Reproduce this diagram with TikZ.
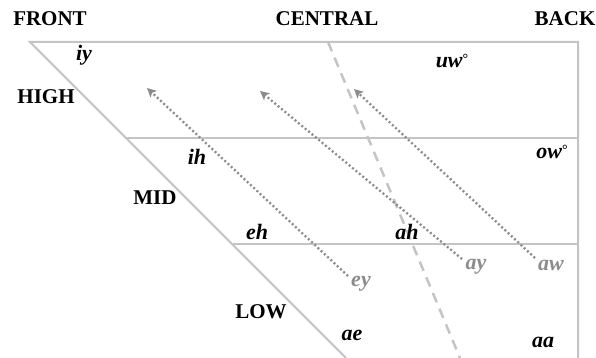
\documentclass[tikz,border=0pt]{standalone}
\usepackage{fontspec}
\setmainfont{Liberation Serif}
\usetikzlibrary{arrows.meta}
\definecolor{gridgray}{HTML}{C4C4C4}
\definecolor{glidegray}{HTML}{8C8C8C}
\newcommand{\smalldeg}{\raisebox{0.22em}{\fontsize{14}{14}\selectfont\upshape°}}
\tikzset{
  frame/.style={draw=gridgray, line width=2pt},
  centreline/.style={draw=gridgray, line width=2.5pt, dash pattern=on 10pt off 7pt},
  glide/.style={draw=glidegray, line width=2.3pt, dash pattern=on 2pt off 2.4pt,
    -{Stealth[length=9pt,width=9pt,inset=2pt]}},
  heading/.style={font=\fontsize{21}{23}\selectfont\bfseries, inner sep=0pt},
  vowel/.style={font=\fontsize{22}{24}\selectfont\bfseries\itshape, inner sep=0pt},
  diph/.style={vowel, text=glidegray}
}
\begin{document}
\begin{tikzpicture}[x=1pt, y=-1pt]
  \useasboundingbox (0,0) rectangle (596,358);

  % vowel quadrilateral
  \coordinate (tl) at (30,42);
  \coordinate (tr) at (578,42);
  \coordinate (br) at (578,358);
  \coordinate (bl) at (346,358);
  \coordinate (hl) at (127,138);
  \coordinate (hr) at (578,138);
  \coordinate (ml) at (233,244);
  \coordinate (mr) at (578,244);
  \coordinate (ct) at (328,42);
  \coordinate (cb) at (460,358);

  \draw[frame] (bl) -- (tl) -- (tr) -- (br);
  \draw[frame] (hl) -- (hr);
  \draw[frame] (ml) -- (mr);
  \draw[centreline] (ct) -- (cb);

  % column and row headings
  \node[heading] (front) at (50,19) {FRONT};
  \node[heading] (central) at (327,19) {CENTRAL};
  \node[heading] (back) at (565,19) {BACK};
  \node[heading] (high) at (46,97) {HIGH};
  \node[heading] (mid) at (155,198) {MID};
  \node[heading] (low) at (261,312) {LOW};

  % monophthongs
  \node[vowel] (iy) at (84,55) {iy};
  \node[vowel] (uw) at (452,61) {uw\smalldeg};
  \node[vowel] (ih) at (197,157) {ih};
  \node[vowel] (ow) at (552,152) {ow\smalldeg};
  \node[vowel] (eh) at (257,232) {eh};
  \node[vowel] (ah) at (407,232) {ah};
  \node[vowel] (ae) at (352,335) {ae};
  \node[vowel] (aa) at (543,342) {aa};

  % diphthongs and their glides
  \node[diph] (ey) at (361,284) {ey};
  \node[diph] (ay) at (476,267) {ay};
  \node[diph] (aw) at (551,265) {aw};

  \coordinate (eystart) at (348,276);
  \coordinate (aystart) at (462,259);
  \coordinate (awstart) at (535,258);
  \coordinate (eyend) at (147,88);
  \coordinate (ayend) at (260,91);
  \coordinate (awend) at (354,89);

  \draw[glide] (eystart) -- (eyend);
  \draw[glide] (aystart) -- (ayend);
  \draw[glide] (awstart) -- (awend);
\end{tikzpicture}
\end{document}
